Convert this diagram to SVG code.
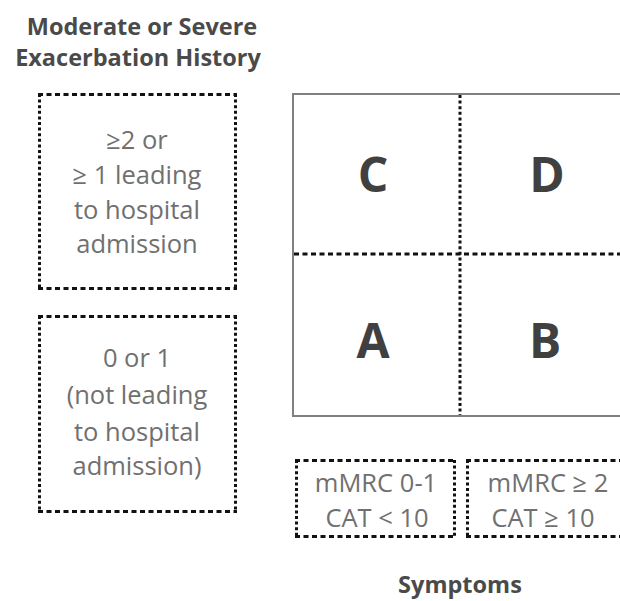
<svg xmlns="http://www.w3.org/2000/svg" width="620" height="601" viewBox="0 0 620 601">
<style>
.title{font-family:"Open Sans","Liberation Sans",sans-serif;font-weight:bold;font-size:23.5px;fill:#4a4a4a;text-anchor:middle}
.lbl{font-family:"Open Sans","Liberation Sans",sans-serif;font-size:25.5px;fill:#707070;text-anchor:middle}
.big{font-family:"Open Sans","Liberation Sans",sans-serif;font-weight:bold;font-size:48px;fill:#404040;text-anchor:middle}
.dh{stroke:#111;stroke-width:3;stroke-dasharray:5 3.5;fill:none}
.dv{stroke:#111;stroke-width:3;stroke-dasharray:3 2.6;fill:none}
.frame{stroke:#808080;stroke-width:2;fill:none}
</style>
<rect width="620" height="601" fill="#fff"/>
<g id="title-exacerbation">
<text class="title" x="142" y="35">Moderate or Severe</text>
<text class="title" x="138" y="66">Exacerbation History</text>
</g>
<g id="box-high">
<path class="dh" d="M38 94.5H237M38 288.5H237"/>
<path class="dv" d="M39.5 94V289M235.5 94V289"/>
<text class="lbl" x="137" y="149">≥2 or</text>
<text class="lbl" x="137" y="184">≥ 1 leading</text>
<text class="lbl" x="137" y="219">to hospital</text>
<text class="lbl" x="137" y="253">admission</text>
</g>
<g id="box-low">
<path class="dh" d="M38 316.5H237M38 511.5H237"/>
<path class="dv" d="M39.5 316V512M235.5 316V512"/>
<text class="lbl" x="137" y="367">0 or 1</text>
<text class="lbl" x="137" y="404">(not leading</text>
<text class="lbl" x="137" y="441">to hospital</text>
<text class="lbl" x="137" y="475">admission)</text>
</g>
<g id="grid">
<path class="frame" d="M622 94H293V416H622"/>
</g>
<g id="connectors">
<path class="dv" d="M460 95V415"/>
<path class="dh" d="M294 254H620"/>
</g>
<g id="C"><text class="big" x="373" y="192">C</text></g>
<g id="D"><text class="big" x="547" y="192">D</text></g>
<g id="A"><text class="big" x="373" y="358">A</text></g>
<g id="B"><text class="big" x="545" y="358">B</text></g>
<g id="sym-low">
<path class="dh" d="M295 460.5H456M295 536.5H456"/>
<path class="dv" d="M296.5 460V537M454.5 460V537"/>
<text class="lbl" x="376" y="492">mMRC 0-1</text>
<text class="lbl" x="377" y="527">CAT &lt; 10</text>
</g>
<g id="sym-high">
<path class="dh" d="M466 460.5H620M466 536.5H620"/>
<path class="dv" d="M467.5 460V537"/>
<text class="lbl" x="548" y="492">mMRC ≥ 2</text>
<text class="lbl" x="543" y="527">CAT ≥ 10</text>
</g>
<g id="title-symptoms">
<text class="title" x="460" y="593">Symptoms</text>
</g>
</svg>
